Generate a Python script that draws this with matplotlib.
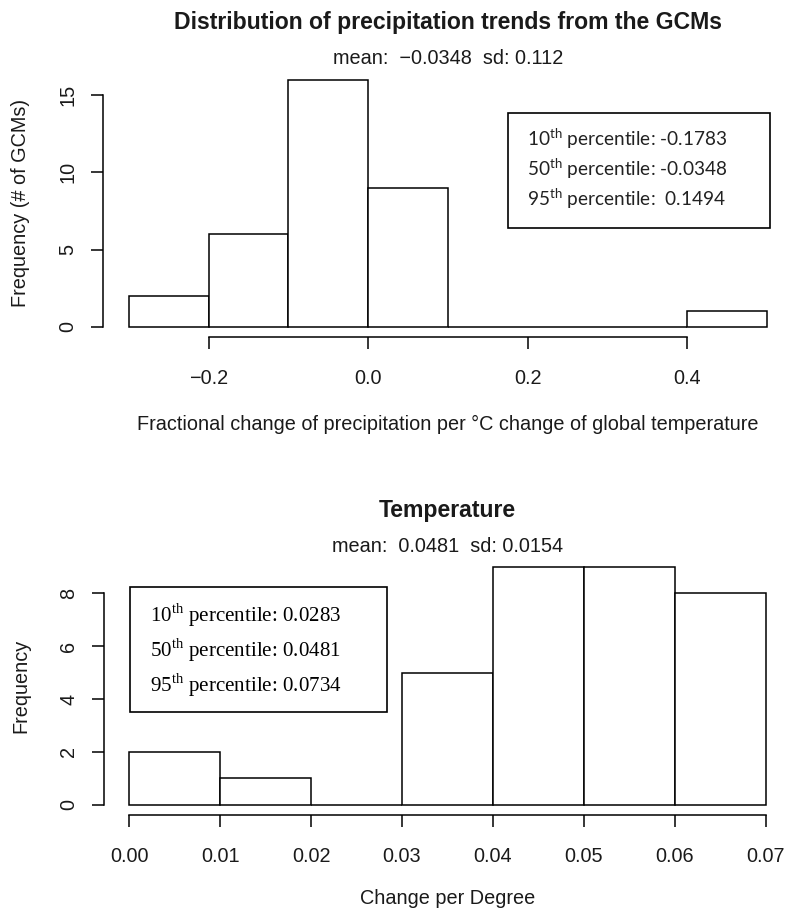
import matplotlib
matplotlib.use("Agg")
import matplotlib.pyplot as plt
from matplotlib.patches import Rectangle
import numpy as np

# ---------------- data ----------------
precip_edges = [-0.3, -0.2, -0.1, 0.0, 0.1, 0.2, 0.3, 0.4, 0.5]
precip_counts = [2, 6, 16, 9, 0, 0, 0, 1]
precip_xticks = [-0.2, 0.0, 0.2, 0.4]
precip_xticklabels = ["\u22120.2", "0.0", "0.2", "0.4"]
precip_yticks = [0, 5, 10, 15]
precip_title = "Distribution of precipitation trends from the GCMs"
precip_sub = "mean:  \u22120.0348  sd: 0.112"
precip_xlabel = "Fractional change of precipitation per \u00b0C change of global temperature"
precip_ylabel = "Frequency (# of GCMs)"
precip_pct = [("10", "-0.1783"), ("50", "-0.0348"), ("95", " 0.1494")]

temp_edges = [0.00, 0.01, 0.02, 0.03, 0.04, 0.05, 0.06, 0.07]
temp_counts = [2, 1, 0, 5, 9, 9, 8]
temp_xticks = [0.00, 0.01, 0.02, 0.03, 0.04, 0.05, 0.06, 0.07]
temp_xticklabels = ["0.00", "0.01", "0.02", "0.03", "0.04", "0.05", "0.06", "0.07"]
temp_yticks = [0, 2, 4, 6, 8]
temp_title = "Temperature"
temp_sub = "mean:  0.0481  sd: 0.0154"
temp_xlabel = "Change per Degree"
temp_ylabel = "Frequency"
temp_pct = [("10", "0.0283"), ("50", "0.0481"), ("95", "0.0734")]

W, H = 786, 911
plt.rcParams['font.family'] = ['Liberation Sans', 'DejaVu Sans']
fig = plt.figure(figsize=(W / 100, H / 100), dpi=100)

def fx(x):
    return x / W

def fy(y):
    return 1 - y / H

def make_axes(left, right, top, bottom):
    return fig.add_axes([fx(left), fy(bottom), (right - left) / W, (bottom - top) / H])

LW = 1.1
FS = 14.3
TEXTC = '#1a1a1a'

def style(ax, edges, counts, xticks, xticklabels, yticks):
    edges = np.array(edges)
    widths = np.diff(edges)
    ax.bar(edges[:-1], counts, width=widths, align='edge', facecolor='white',
           edgecolor='black', linewidth=LW)
    xr = edges[-1] - edges[0]
    ax.set_xlim(edges[0] - 0.04 * xr, edges[-1] + 0.04 * xr)
    ymax = max(counts)
    ax.set_ylim(-0.04 * ymax, ymax * 1.04)
    for s in ['top', 'right']:
        ax.spines[s].set_visible(False)
    ax.spines['left'].set_bounds(yticks[0], yticks[-1])
    ax.spines['bottom'].set_bounds(xticks[0], xticks[-1])
    ax.spines['left'].set_linewidth(LW)
    ax.spines['bottom'].set_linewidth(LW)
    ax.set_xticks(xticks)
    ax.set_xticklabels(xticklabels)
    ax.set_yticks(yticks)
    ax.set_yticklabels([str(v) for v in yticks], rotation=90, va='center')
    ax.tick_params(axis='both', length=8.6, width=LW, labelsize=FS, colors='black',
                   labelcolor=TEXTC)
    ax.tick_params(axis='x', pad=15)
    ax.tick_params(axis='y', pad=10)
    ax.patch.set_visible(False)

# ---- top panel ----
ax1 = make_axes(103.2, 792.6, 69.8, 336.6)
style(ax1, precip_edges, precip_counts, precip_xticks, precip_xticklabels, precip_yticks)
cx1 = (103.2 + 792.6) / 2
fig.text(fx(cx1), fy(22), precip_title, ha='center', va='center', fontsize=16.6,
         fontweight='bold', color=TEXTC)
fig.text(fx(cx1), fy(58), precip_sub, ha='center', va='center', fontsize=FS, color=TEXTC)
fig.text(fx(cx1), fy(424), precip_xlabel, ha='center', va='center', fontsize=FS, color=TEXTC)
fig.text(fx(21), fy(203), precip_ylabel, ha='center', va='center', fontsize=FS,
         rotation=90, color=TEXTC)

# percentile box (top)
fig.patches.append(Rectangle((fx(508), fy(228)), (770 - 508) / W, (228 - 113) / H,
                             transform=fig.transFigure, facecolor='white', edgecolor='black',
                             linewidth=1.2))
for i, (p, v) in enumerate(precip_pct):
    fig.text(fx(527), fy(139 + 30 * i),
             p + r"$^{\mathregular{th}}$" + " percentile: " + v,
             ha='left', va='center', fontsize=13.7, family=['Lato', 'DejaVu Sans'], color='#222222')

# ---- bottom panel ----
ax2 = make_axes(103.9, 791.0, 557.0, 814.5)
style(ax2, temp_edges, temp_counts, temp_xticks, temp_xticklabels, temp_yticks)
cx2 = (103.9 + 791.0) / 2
fig.text(fx(cx2), fy(510), temp_title, ha='center', va='center', fontsize=16.6,
         fontweight='bold', color=TEXTC)
fig.text(fx(cx2), fy(547), temp_sub, ha='center', va='center', fontsize=FS, color=TEXTC)
fig.text(fx(cx2), fy(899), temp_xlabel, ha='center', va='center', fontsize=FS, color=TEXTC)
fig.text(fx(21), fy(686), temp_ylabel, ha='center', va='center', fontsize=FS,
         rotation=90, color=TEXTC)

fig.patches.append(Rectangle((fx(130), fy(712)), (387 - 130) / W, (712 - 587) / H,
                             transform=fig.transFigure, facecolor='white', edgecolor='black',
                             linewidth=1.2))
for i, (p, v) in enumerate(temp_pct):
    fig.text(fx(150), fy(615 + 35 * i),
             p + r"$^{\mathregular{th}}$" + " percentile: " + v,
             ha='left', va='center', fontsize=15.1, family=['Liberation Serif', 'DejaVu Serif'])

fig.savefig("out.png", dpi=100)
